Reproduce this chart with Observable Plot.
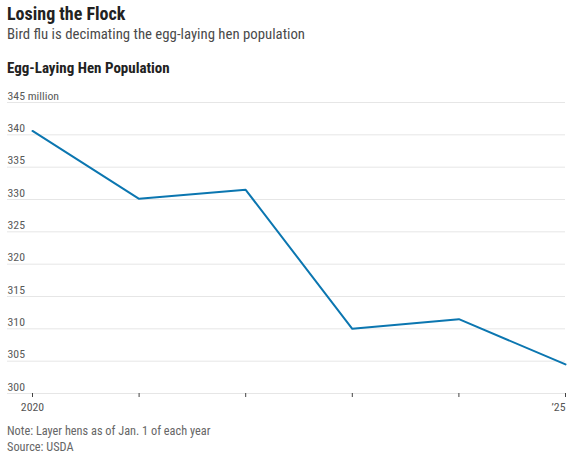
<!DOCTYPE html>
<html>
<head>
<meta charset="utf-8">
<script src="https://cdn.jsdelivr.net/npm/d3@7"></script>
<script src="https://cdn.jsdelivr.net/npm/@observablehq/plot@0.6"></script>
<style>
  html, body { margin: 0; padding: 0; background: #fff; }
  body { width: 573px; height: 467px; position: relative; overflow: hidden;
         font-family: "Liberation Sans Narrow", "Roboto Condensed", Roboto, sans-serif; }
  .abs { position: absolute; left: 7px; white-space: nowrap; }
  #title { top: 3px; font-size: 18px; font-weight: 700; color: #222; }
  #subtitle { top: 25px; font-size: 14.8px; color: #4a4a4a; }
  #heading { top: 59px; font-size: 15px; font-weight: 700; color: #222; }
  #chart { position: absolute; left: 0; top: 80px; }
  #note { top: 424px; font-size: 12.3px; color: #666; }
  #source { top: 440px; font-size: 12.3px; color: #666; }
</style>
</head>
<body>
<div class="abs" id="title">Losing the Flock</div>
<div class="abs" id="subtitle">Bird flu is decimating the egg-laying hen population</div>
<div class="abs" id="heading">Egg-Laying Hen Population</div>
<div id="chart"></div>
<div class="abs" id="note">Note: Layer hens as of Jan. 1 of each year</div>
<div class="abs" id="source">Source: USDA</div>
<script>
const years = [2020, 2021, 2022, 2023, 2024, 2025];
const hens = [340.6, 330.1, 331.5, 310.0, 311.5, 304.5];
const yTicks = [300, 305, 310, 315, 320, 325, 330, 335, 340, 345];
const yTickLabels = ["300", "305", "310", "315", "320", "325", "330", "335", "340", "345 million"];
const xTickLabels = ["2020", "", "", "", "", "\u201925"];

const rows = years.map((year, i) => ({year, value: hens[i]}));
const fmtY = d => yTickLabels[yTicks.indexOf(d)];
const fmtX = d => xTickLabels[years.indexOf(d)];
const font = '"Liberation Sans Narrow", "Roboto Condensed", Roboto, sans-serif';

const chart = Plot.plot({
  width: 573,
  height: 340,
  marginLeft: 7,
  marginRight: 8,
  marginTop: 22,
  marginBottom: 27,
  x: {domain: [2020, 2025], range: [32, 565]},
  y: {domain: [300, 345]},
  style: {fontFamily: font, fontSize: "11.8px", color: "#555", background: "#fff", overflow: "visible"},
  marks: [
    Plot.ruleY(yTicks, {stroke: "#e6e6e6", strokeWidth: 1}),
    Plot.axisY({ticks: yTicks, tickSize: 0, tickPadding: 0, textAnchor: "start", lineAnchor: "bottom",
                dy: -3, tickFormat: fmtY, label: null, fill: "#5a5a5a"}),
    Plot.axisX({ticks: years, tickSize: 4, tickFormat: () => "", label: null, stroke: "#444"}),
    Plot.axisX({ticks: years.filter(d => d !== 2025), tickSize: 0, tickPadding: 9, tickFormat: fmtX, label: null, fill: "#555"}),
    Plot.axisX({ticks: [2025], tickSize: 0, tickPadding: 9, textAnchor: "end", tickFormat: fmtX, label: null, fill: "#555"}),
    Plot.line(rows, {x: "year", y: "value", stroke: "#0b76b0", strokeWidth: 2})
  ]
});
document.getElementById("chart").appendChild(chart);
</script>
</body>
</html>
